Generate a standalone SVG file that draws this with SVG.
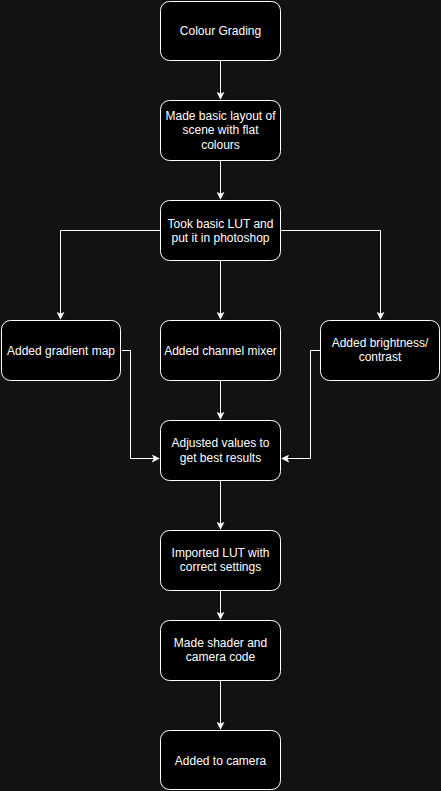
<svg xmlns="http://www.w3.org/2000/svg" width="441" height="791" viewBox="0 0 441 791">
<style>
.n rect{fill:#000;stroke:#fff;stroke-width:1}
.n text{fill:#fff;font-family:"Liberation Sans",Arial,sans-serif;font-size:12px;text-anchor:middle;dominant-baseline:central}
.e path{fill:none;stroke:#fff;stroke-width:1}
</style>
<defs>
<marker id="a" viewBox="0 0 10 10" refX="9" refY="5" markerWidth="8" markerHeight="8" markerUnits="userSpaceOnUse" orient="auto">
<path d="M0,0 L10,5 L0,10 L2.5,5 Z" fill="#fff"/>
</marker>
</defs>
<rect width="441" height="791" fill="#121212"/>
<g class="e">
<path d="M220.5,61 V99" marker-end="url(#a)"/>
<path d="M220.5,161 V199" marker-end="url(#a)"/>
<path d="M220.5,261 V319" marker-end="url(#a)"/>
<path d="M160,230.5 H60.5 V319" marker-end="url(#a)"/>
<path d="M281,230.5 H380.5 V319" marker-end="url(#a)"/>
<path d="M220.5,381 V419" marker-end="url(#a)"/>
<path d="M122,350.5 H130.5 V458.5 H159" marker-end="url(#a)"/>
<path d="M320,350.5 H310.5 V458.5 H282" marker-end="url(#a)"/>
<path d="M220.5,481 V529" marker-end="url(#a)"/>
<path d="M220.5,591 V619" marker-end="url(#a)"/>
<path d="M220.5,681 V729" marker-end="url(#a)"/>
</g>
<g id="n1" class="n"><rect x="160.5" y="1.5" width="120" height="59" rx="9"/><text x="220.5" y="31">Colour Grading</text></g>
<g id="n2" class="n"><rect x="160.5" y="100.5" width="120" height="60" rx="9"/><text x="220.5" y="116">Made basic layout of</text><text x="220.5" y="130">scene with flat</text><text x="220.5" y="145">colours</text></g>
<g id="n3" class="n"><rect x="160.5" y="200.5" width="120" height="60" rx="9"/><text x="220.5" y="224">Took basic LUT and</text><text x="220.5" y="238">put it in photoshop</text></g>
<g id="n4" class="n"><rect x="1.5" y="320.5" width="119" height="60" rx="9"/><text x="61" y="351">Added gradient map</text></g>
<g id="n5" class="n"><rect x="160.5" y="320.5" width="120" height="60" rx="9"/><text x="220.5" y="351">Added channel mixer</text></g>
<g id="n6" class="n"><rect x="320.5" y="320.5" width="119" height="60" rx="9"/><text x="380" y="343">Added brightness/</text><text x="380" y="357">contrast</text></g>
<g id="n7" class="n"><rect x="160.5" y="420.5" width="120" height="60" rx="9"/><text x="220.5" y="443">Adjusted values to</text><text x="220.5" y="458">get best results</text></g>
<g id="n8" class="n"><rect x="160.5" y="530.5" width="120" height="60" rx="9"/><text x="220.5" y="553">Imported LUT with</text><text x="220.5" y="567">correct settings</text></g>
<g id="n9" class="n"><rect x="160.5" y="620.5" width="120" height="60" rx="9"/><text x="220.5" y="643">Made shader and</text><text x="220.5" y="657">camera code</text></g>
<g id="n10" class="n"><rect x="160.5" y="730.5" width="120" height="59" rx="9"/><text x="220.5" y="761">Added to camera</text></g>
</svg>
